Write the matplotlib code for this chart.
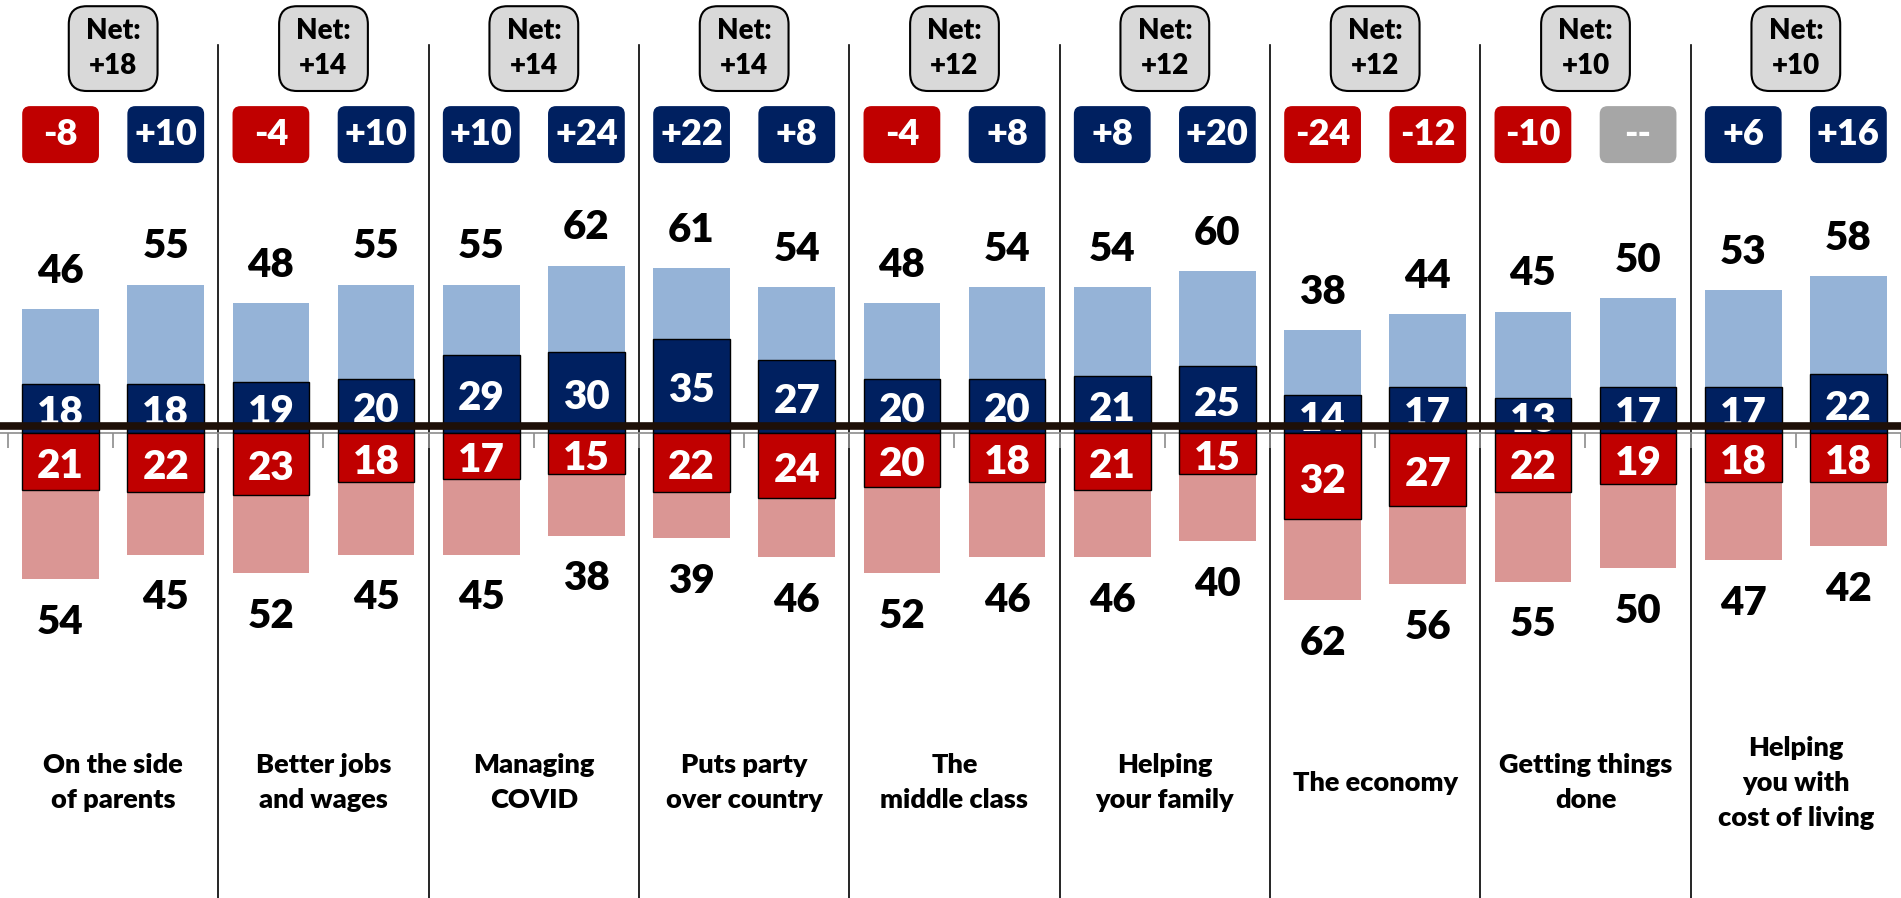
import matplotlib
matplotlib.use("Agg")
import matplotlib.pyplot as plt
from matplotlib.patches import FancyBboxPatch
import numpy as np

plt.rcParams['font.family'] = ['Lato', 'DejaVu Sans']
plt.rcParams['font.weight'] = 'heavy'

# data
categories = ["On the side\nof parents", "Better jobs\nand wages", "Managing\nCOVID",
              "Puts party\nover country", "The\nmiddle class", "Helping\nyour family",
              "The economy", "Getting things\ndone", "Helping\nyou with\ncost of living"]
net_labels = ["+18", "+14", "+14", "+14", "+12", "+12", "+12", "+10", "+10"]
diff_labels = ["-8", "+10", "-4", "+10", "+10", "+24", "+22", "+8", "-4", "+8",
               "+8", "+20", "-24", "-12", "-10", "--", "+6", "+16"]
top_total = [46, 55, 48, 55, 55, 62, 61, 54, 48, 54, 54, 60, 38, 44, 45, 50, 53, 58]
top_strong = [18, 18, 19, 20, 29, 30, 35, 27, 20, 20, 21, 25, 14, 17, 13, 17, 17, 22]
bottom_strong = [21, 22, 23, 18, 17, 15, 22, 24, 20, 18, 21, 15, 32, 27, 22, 19, 18, 18]
bottom_total = [54, 45, 52, 45, 45, 38, 39, 46, 52, 46, 46, 40, 62, 56, 55, 50, 47, 42]

LIGHT_BLUE = "#95B3D7"
NAVY = "#002060"
RED = "#C00000"
LIGHT_RED = "#DA9694"

fig = plt.figure(figsize=(19.01, 8.98), dpi=100)
ax = fig.add_axes([0, 0, 1, 1])
x = np.arange(len(top_total))
width = 0.73
ax.set_xlim(-0.576, 17.443)
ax.set_ylim(-172.2, 160.4)

ax.bar(x, top_total, width, color=LIGHT_BLUE, zorder=2)
ax.bar(x, top_strong, width, color=NAVY, edgecolor='black', linewidth=1, zorder=3)
ax.bar(x, -np.array(bottom_total), width, color=LIGHT_RED, zorder=2)
ax.bar(x, -np.array(bottom_strong), width, color=RED, edgecolor='black', linewidth=1, zorder=3)

for i in x:
    ax.text(i, top_total[i] + 14, str(top_total[i]), ha='center', va='center', fontsize=29, zorder=4)
    ax.text(i, top_strong[i] / 2 - 1.8, str(top_strong[i]), ha='center', va='center', fontsize=29,
            color='white', zorder=4)
    ax.text(i, -bottom_strong[i] / 2 - 1.8, str(bottom_strong[i]), ha='center', va='center', fontsize=29,
            color='white', zorder=4)
    ax.text(i, -bottom_total[i] - 16, str(bottom_total[i]), ha='center', va='center', fontsize=29, zorder=4)

# thick dark line across the middle
ax.axhline(2.6, color='#1E1008', lw=5.5, zorder=6)

# axis line with ticks between bars
for s in ['top', 'left', 'right']:
    ax.spines[s].set_visible(False)
ax.spines['bottom'].set_position(('data', 0))
ax.spines['bottom'].set_color('#8C8C8C')
ax.spines['bottom'].set_linewidth(1.2)
ax.set_xticks(np.arange(-0.5, 18, 1))
ax.set_xticklabels([])
ax.tick_params(axis='x', direction='out', length=10.5, width=1.2, color='#8C8C8C')
ax.set_yticks([])

# separators between groups
for g in range(1, len(categories)):
    ax.plot([2 * g - 0.5] * 2, [143.7, -172.2], color='black', lw=1.2, zorder=1)

px_x = 1901 / (17.443 + 0.576)
px_y = 898 / (160.4 + 172.2)
asp = px_x / px_y

for g, cat in enumerate(categories):
    cx = 2 * g + 0.5
    w = 0.844
    box = FancyBboxPatch((cx - w / 2, 126.7), w, 31.4,
                         boxstyle="round,pad=0,rounding_size={}".format(18 / px_x),
                         mutation_aspect=asp, fc='#D9D9D9', ec='black', lw=1.5, zorder=3)
    ax.add_patch(box)
    ax.text(cx, 142.4, "Net:\n" + net_labels[g], ha='center', va='center', fontsize=20,
            linespacing=1.4, zorder=4)
    ax.text(cx, -129.6, cat, ha='center', va='center', fontsize=19.5, linespacing=1.55)

for i, lab in enumerate(diff_labels):
    if lab == "--":
        col = '#A6A6A6'
    elif lab.startswith('-'):
        col = RED
    else:
        col = NAVY
    box = FancyBboxPatch((i - width / 2, 100), width, 21.1,
                         boxstyle="round,pad=0,rounding_size={}".format(8 / px_x),
                         mutation_aspect=asp, fc=col, ec='none', zorder=3)
    ax.add_patch(box)
    ax.text(i, 110.5, lab, ha='center', va='center', fontsize=26, color='white', zorder=4)

fig.savefig('out.png', dpi=100)
